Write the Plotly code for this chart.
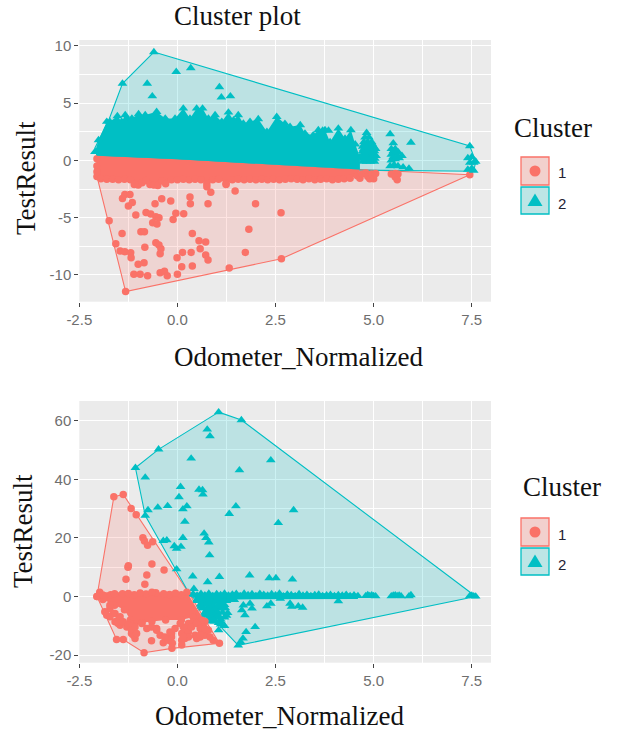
import plotly.graph_objects as go

W, H = 618, 735
RED, TEAL = "#FA7268", "#00BFC4"
SERIF = "Liberation Serif"
SANS = "Liberation Sans"

x_ticks = [-2.5, 0.0, 2.5, 5.0, 7.5]
x_labels = ["-2.5", "0.0", "2.5", "5.0", "7.5"]
top_y_ticks = [-10, -5, 0, 5, 10]
top_y_labels = ["-10", "-5", "0", "5", "10"]
bot_y_ticks = [-20, 0, 20, 40, 60]
bot_y_labels = ["-20", "0", "20", "40", "60"]

# ---------- top panel ----------
top_hull1_x = [-2.05, -1.32, 2.65, 7.45, 4.65, 0.0, -2.05, -2.05]
top_hull1_y = [-1.4, -11.45, -8.58, -1.25, -0.8, 0.1, 0.4, -1.4]
top_hull2_x = [-0.6, 7.45, 7.6, 7.55, 4.65, 0.0, -2.05, -2.1, -1.75, -1.4, -0.6]
top_hull2_y = [9.45, 1.25, -0.1, -0.95, -0.85, 0.1, 0.4, 1.1, 3.5, 6.7, 9.45]

# edge of the saturated bands
top_band2_x = [-2.1, -2.01, -1.80, -1.72, -1.53, -1.42, -1.33, -1.16, -0.99, -0.82, -0.53, -0.31, -0.06, 0.15, 0.32,
               0.49, 0.64, 0.79, 0.96, 1.13, 1.30, 1.43, 1.55, 1.68, 1.85, 2.06, 2.28, 2.53, 2.74, 2.87, 3.13, 3.25,
               3.46, 3.59, 3.76, 3.89, 4.1, 4.27, 4.42, 4.53, 4.65]
top_band2_top = [0.75, 1.77, 3.37, 3.37, 3.86, 3.37, 3.95, 3.66, 4.04, 3.95, 4.24, 3.66, 3.66, 4.53, 3.66,
                 4.53, 4.53, 3.66, 3.95, 3.37, 4.18, 3.51, 3.95, 3.22, 3.37, 3.6, 2.5, 3.8, 3.2, 2.93, 3.08, 2.35,
                 2.2, 2.64, 2.64, 1.6, 2.78, 1.9, 2.64, 1.4, 0.3]
top_band_mid_x = [4.65, 2.6, 0.0, -2.05]
top_band_mid_y = [-0.8, -0.4, 0.1, 0.4]
top_band1_x = [-2.05, -1.95, -1.8, -1.65, -1.5, -1.35, -1.2, -1.1, -1.0, -0.9, -0.8, -0.7, -0.6, -0.5, -0.4, -0.3,
               -0.15, 0.0, 0.15, 0.3, 0.45, 0.6, 0.75, 0.9, 1.05, 1.24, 1.4, 1.55, 1.7, 1.85, 2.0, 2.15, 2.3, 2.45,
               2.6, 2.75, 2.9, 3.05, 3.2, 3.35, 3.5, 3.65, 3.8, 3.95, 4.1, 4.25, 4.4, 4.58]
top_band1_low = [-1.4, -1.6, -1.65, -1.65, -1.7, -1.65, -1.7, -2.1, -2.15, -1.95, -1.75, -2.1, -2.15, -2.2, -1.8, -2.05,
                 -1.7, -1.7, -1.65, -1.7, -1.65, -1.7, -2.05, -1.7, -1.65, -2.0, -1.7, -1.65, -1.7, -1.65, -1.7, -1.65, -1.7, -1.65,
                 -1.7, -1.65, -1.6, -1.65, -1.7, -1.6, -1.7, -1.65, -1.6, -1.7, -1.65, -1.6, -1.55, -1.35]

top_c1_x = [-1.32, -1.74, -1.57, -1.46, -1.34, -1.19, -1.18, -1.41, -1.40, -1.34, -1.21, -1.25, -1.15, -1.06, -0.80,
            -0.68, -0.55, -0.47, -0.63, -0.52, -0.93, -0.84, -0.83, -0.55, -0.47, -0.42, -0.44, -0.57, -0.40, -0.17,
            0.32, 0.33, 0.85, 0.78, -0.04, -0.11, 0.16, -1.0, -0.85, -1.11, -0.95, -0.76, -0.44, -0.33, -0.26, 0.0,
            -0.01, 0.13, 0.35, 0.58, 0.55, 0.72, 0.38, 0.11, 0.38, 0.72, 0.78, 1.32, 2.65, 1.73, 1.82, 1.99, 2.64,
            1.47, 1.24, 0.75, 7.45, -2.05, -2.05, -2.05,
            4.65, 4.7, 4.8, 4.85, 4.9, 4.95, 5.0, 5.05, 5.45, 5.55, 5.62, 5.55, 5.6]
top_c1_y = [-11.45, -5.26, -7.27, -7.91, -7.97, -8.06, -8.49, -6.37, -3.32, -2.97, -2.97, -3.99, -3.67, -4.77, -4.54,
            -4.68, -4.92, -5.0, -5.44, -5.55, -6.22, -6.22, -7.59, -7.18, -7.39, -7.71, -8.14, -3.78, -3.35, -3.55,
            -3.2, -3.78, -2.79, -3.78, -4.62, -5.15, -4.65, -9.07, -8.93, -9.94, -9.94, -10.06, -9.8, -9.68, -10.06, -9.94,
            -8.49, -8.03, -8.03, -7.71, -7.01, -7.13, -6.37, -9.28, -9.22, -8.26, -8.69, -9.39, -8.58, -8.03, -6.02, -3.78, -4.57,
            -2.68, -2.1, -2.3, -1.25, 0.15, -0.5, -1.0,
            -1.55, -1.2, -1.1, -1.4, -1.6, -1.2, -1.6, -1.15, -1.2, -1.15, -1.2, -1.45, -1.7]
top_c2_x = [-0.6, -1.4, -0.03, 0.34, -0.77, -0.64, 1.07, 1.12, 1.35, 3.7, 3.85,
            4.82, 4.78, 4.88, 4.75, 4.85, 4.95, 4.72, 4.82, 4.92, 5.0, 4.72, 4.82, 4.92, 5.02, 4.7, 4.8, 4.9, 5.0, 5.06,
            4.72, 4.82, 4.92, 5.02, 4.77, 4.87, 4.97, 4.75, 4.85, 4.95, 5.05, 4.77, 4.87, 4.97, 4.73, 4.83, 4.93, 5.03,
            5.42, 5.5, 5.45, 5.55, 5.45, 5.55, 5.63, 5.45, 5.55, 5.65, 5.72, 5.42, 5.52, 5.62, 5.75, 5.5, 5.58, 5.5, 5.6, 5.95, 5.9,
            7.45, 7.5, 7.4, 7.6, 7.45, 7.55, 7.5, 7.4, 7.55]
top_c2_y = [9.45, 6.7, 7.73, 8.05, 6.7, 5.6, 6.4, 5.5, 5.6, 2.6, 2.6,
            2.4, 2.0, 2.0, 1.6, 1.6, 1.6, 1.2, 1.2, 1.2, 1.2, 0.8, 0.8, 0.8, 0.8, 0.4, 0.4, 0.4, 0.4, 0.4,
            -0.1, -0.1, -0.1, -0.1, 1.4, 1.4, 1.4, 1.0, 1.0, 1.0, 1.0, 0.6, 0.6, 0.6, 0.15, 0.15, 0.15, 0.15,
            2.3, 1.5, 1.0, 1.0, 0.5, 0.6, 0.7, 0.0, 0.1, 0.2, 0.4, -0.5, -0.4, -0.5, -0.6, 0.8, 0.8, 0.3, 0.3, 1.55, -0.7,
            1.25, 0.3, 0.2, -0.1, -0.2, -0.2, -0.7, -0.8, -0.9]

# ---------- bottom panel ----------
bot_hull1_x = [-2.05, -1.55, -1.38, -0.85, -0.14, 1.07, 0.3, -1.05, -1.38, -1.62, -2.05]
bot_hull1_y = [0.0, -14.7, -14.7, -19.2, -17.7, -16.0, 1.0, 27.9, 34.8, 34.0, 0.0]
bot_hull2_x = [1.05, 1.63, 7.5, 7.6, 1.55, 0.3, -0.82, -1.07, -0.48, 1.05]
bot_hull2_y = [62.9, 60.2, 1.0, 0.0, -16.7, 1.0, 27.6, 43.9, 50.2, 62.9]

bot_band1_x = [-2.05, -1.98, 0.24, 0.7, 0.6, 0.4, 0.1, -0.3, -0.65, -0.9, -1.1, -1.2, -1.35, -1.6, -1.9]
bot_band1_y = [0.0, 1.4, 1.4, -8.5, -9.5, -7.0, -8.0, -8.0, -8.5, -9.0, -10.0, -8.0, -4.5, -3.0, -1.0]

bot_c1_x = [-1.62, -1.38, -1.18, -1.05, -0.88, -0.84, -0.76, -0.63, -1.25, -1.26, -0.65, -0.34, -1.31, -0.78, -0.83,
            -1.55, -1.38, -0.85, -0.14, 1.07, -2.05, -1.72, -1.8, -1.63, -1.51, -1.46, -1.29, -1.59, -1.21, -1.17,
            -1.08, -1.12, -0.66, -0.36, -0.23, -0.15, -0.13, -0.15, 0.11, 0.11, 0.11, 0.15, 0.45, 0.58, 0.49, 0.7,
            0.79, 0.62, 0.28, 0.41, 0.62, 0.66, 0.19, -0.53, -1.7, -1.4, -1.1, -0.8, -0.55, -0.2, 0.1,
            -1.72, -1.85, -1.72, -1.59, -1.46, -1.51, -1.38, -1.25, -1.17, -1.04, -1.08, -0.91, -0.78, -0.66, -0.53,
            -0.44, -0.32, -0.19, -0.06, 0.07, 0.19, 0.28, 0.36, 0.49, 0.58, 0.7, 0.83, 0.91, 0.58, 0.28, 0.15,
            -1.9, -1.6, -1.25, -0.95, -0.65, -0.35, -0.05]
bot_c1_y = [34.0, 34.8, 30.0, 27.9, 20.0, 18.9, 17.5, 18.7, 10.5, 10.0, 11.1, 9.0, 5.9, 7.3, 4.2,
            -14.7, -14.7, -19.2, -17.7, -16.0, 0.0, -4.1, -6.4, -5.8, -8.1, -9.8, -10.4, -8.6, -9.2, -12.6,
            -14.3, -13.2, -15.1, -15.8, -14.9, -13.8, -16.0, -12.6, -14.9, -16.6, -12.6, -10.4, -13.2, -13.8, -14.3, -13.2,
            -11.5, -11.5, -9.2, -8.6, -8.1, -10.4, -14.3, -10.9, 0.6, 0.9, 0.6, 0.8, 1.3, 0.7, 0.6,
            -3.0, -5.2, -6.9, -5.8, -6.9, -9.2, -8.6, -9.8, -11.5, -12.6, -10.4, -9.2, -10.9, -10.4, -11.5,
            -13.2, -13.8, -12.1, -10.9, -9.2, -10.9, -12.1, -10.4, -9.2, -10.9, -10.9, -13.8, -14.9, -13.2, -13.8, -13.8,
            0.5, 0.9, 1.0, 1.2, 1.4, 0.9, 1.1]

bot_c2_x = [1.05, 1.63, -1.07, -0.48, -0.82, -0.5, -0.25, -0.75, -0.82, 0.76, 0.83, 0.35, 2.38, 1.58, 0.08, 0.04,
            0.55, 0.64, 0.65, 0.14, 0.24, 0.19, 1.49, 1.32, 2.96, 2.57, 0.68, 0.73, 0.8, 0.82, -0.36, -0.27, -0.08,
            -0.02, 0.09, 0.14, -0.02, 0.39, 0.77, 1.07, 1.84, 2.34, 2.51, 2.93, 4.1, 2.87, 2.91, 3.08, 3.19, 2.28,
            2.38, 2.62, 1.68, 1.85, 1.9, 1.72, 1.64, 1.98, 1.75, 1.67, 1.61, 1.55, 0.55, 0.7, 0.9, 1.1, 1.15, 1.25,
            0.75, 0.95, 0.7, 0.9, 1.05, 0.85, 1.1, 1.2, 1.05, 0.6, 0.5, 0.85, 1.0, 1.2, 1.35, 1.45, 0.42, 0.62,
            0.5, 0.6, 0.72, 0.82, 0.92, 1.02, 0.65, 0.78, 0.88, 1.0, 0.72, 0.85, 0.95, 0.8, 0.95, 1.1, 1.05]
bot_c2_y = [62.9, 60.2, 43.9, 50.2, 40.6, 30.4, 30.9, 29.5, 27.6, 57.0, 54.7, 47.1, 46.5, 43.1, 37.4, 33.9,
            36.5, 36.3, 34.8, 29.8, 30.8, 25.5, 30.8, 28.2, 29.5, 25.1, 21.5, 20.0, 18.5, 14.1, 19.0, 19.2, 17.2,
            16.3, 17.0, 20.0, 9.3, 6.9, 4.9, 6.7, 7.2, 6.3, 6.3, 5.8, -1.6, -2.4, -3.5, -3.3, -3.8, -3.3,
            -2.4, -0.7, -3.0, -2.4, -4.1, -6.4, -4.7, -10.4, -12.1, -14.3, -15.5, -16.7, -1.5, -2.0, -2.0, -2.5, -4.0, -6.5,
            -4.5, -4.3, -6.5, -7.0, -6.6, -8.5, -9.5, -10.0, -11.5, -3.5, -1.0, -1.2, -1.5, -1.5, -1.0, -1.2, 2.6, -0.8,
            -1.5, -2.5, -2.8, -3.2, -3.4, -3.3, -4.0, -4.6, -5.2, -5.0, -6.0, -6.2, -6.4, -7.5, -8.0, -7.8, -9.0]
# the packed cluster 2 marks just right of the dividing edge
bot_mass_x = [0.5, 0.65, 0.8, 0.95, 1.1, 1.25, 0.6, 0.75, 0.9, 1.05, 1.2, 0.65, 0.8, 0.95, 1.1, 1.22,
              0.7, 0.85, 1.0, 1.15, 1.28, 0.85, 1.0, 1.2, 0.95, 1.1]
bot_mass_y = [-1.5, -1.5, -1.6, -1.5, -1.6, -1.5, -2.8, -2.8, -2.9, -2.8, -2.9, -4.0, -4.1, -4.0, -4.1, -4.0,
              -5.5, -5.5, -5.6, -5.5, -5.6, -7.0, -7.0, -7.1, -8.5, -8.5]
# the long saturated row of cluster 2 along y = 0
bot_row_x = [0.3, 0.4, 0.5, 0.6, 0.7, 0.8, 0.9, 1.0, 1.1, 1.2, 1.3, 1.4, 1.5, 1.6, 1.7, 1.8, 1.9, 2.0, 2.1, 2.2, 2.3,
             2.4, 2.5, 2.6, 2.7, 2.8, 2.9, 3.0, 3.1, 3.2, 3.3, 3.4, 3.5, 3.6, 3.7, 3.8, 3.9, 4.0, 4.1, 4.2, 4.3, 4.4,
             4.5, 4.6, 4.8, 4.85, 4.9, 4.95, 5.0, 5.05, 5.45, 5.5, 5.55, 5.6, 5.65, 5.7, 5.9, 5.95, 7.45, 7.5, 7.55, 7.6]
bot_row_y = [0.6, 0.8, 0.3, 0.9, 0.4, 1.0, 0.2, 0.8, 0.5, 1.0, 0.3, 0.7, 0.9, 0.2, 1.0, 0.5, 0.8, 0.2, 0.9, 0.6, 0.3,
             0.8, 0.4, 1.0, 0.1, 0.7, 0.5, 0.2, 0.8, 0.3, 0.6, 0.2, 0.5, 0.7, 0.2, 0.4, 0.6, 0.2, 0.5, 0.3, 0.6, 0.2,
             0.4, 0.2, 0.2, 0.5, 0.2, 0.4, 0.2, 0.1, 0.1, 0.3, 0.4, 0.2, 0.3, 0.1, 0.1, 0.5, 0.2, 0.3, 0.1, 0.0]
bot_row_band_x = [0.3, 1.5, 4.6, 4.6, 1.5, 0.55]
bot_row_band_y = [1.3, 1.3, 1.0, -0.9, -1.0, -1.6]

# ---------- page layout helpers (pixels -> paper) ----------
def fx(p): return p / W
def fy(p): return 1 - p / H

traces = []
def hull(x, y, c, xa, ya):
    traces.append(go.Scatter(x=x, y=y, mode="lines", fill="toself", fillcolor=c[1], line=dict(color=c[0], width=1.1),
                             xaxis=xa, yaxis=ya, hoverinfo="skip", showlegend=False))
def solid(x, y, color, xa, ya):
    traces.append(go.Scatter(x=x, y=y, mode="lines", fill="toself", fillcolor=color, line=dict(color=color, width=0),
                             xaxis=xa, yaxis=ya, hoverinfo="skip", showlegend=False))
def pts(x, y, color, sym, size, xa, ya):
    traces.append(go.Scatter(x=x, y=y, mode="markers", marker=dict(color=color, symbol=sym, size=size, line=dict(width=0)),
                             xaxis=xa, yaxis=ya, showlegend=False))

RF, TF = "rgba(248,118,109,0.2)", "rgba(0,191,196,0.2)"
CIRC, TRI = 7.5, 8.5
# top
hull(top_hull1_x, top_hull1_y, (RED, RF), "x", "y")
hull(top_hull2_x, top_hull2_y, (TEAL, TF), "x", "y")
solid(top_band1_x + top_band_mid_x, top_band1_low + top_band_mid_y, RED, "x", "y")
pts(top_band1_x, top_band1_low, RED, "circle", CIRC, "x", "y")
pts(top_c1_x, top_c1_y, RED, "circle", CIRC, "x", "y")
solid(top_band2_x + top_band_mid_x, top_band2_top + top_band_mid_y, TEAL, "x", "y")
pts(top_band2_x, top_band2_top, TEAL, "triangle-up", TRI, "x", "y")
pts(top_c2_x, top_c2_y, TEAL, "triangle-up", TRI, "x", "y")
# bottom
hull(bot_hull1_x, bot_hull1_y, (RED, RF), "x2", "y2")
hull(bot_hull2_x, bot_hull2_y, (TEAL, TF), "x2", "y2")
solid(bot_row_band_x, bot_row_band_y, TEAL, "x2", "y2")
pts(bot_row_x, bot_row_y, TEAL, "triangle-up", TRI, "x2", "y2")
pts(bot_mass_x, bot_mass_y, TEAL, "triangle-up", TRI, "x2", "y2")
pts(bot_c2_x, bot_c2_y, TEAL, "triangle-up", TRI, "x2", "y2")
solid(bot_band1_x, bot_band1_y, RED, "x2", "y2")
pts(bot_band1_x, bot_band1_y, RED, "circle", CIRC, "x2", "y2")
pts(bot_c1_x, bot_c1_y, RED, "circle", CIRC, "x2", "y2")

def xaxis(anchor):
    return dict(domain=[fx(79.3), fx(491)], range=[-2.5, 7.99], anchor=anchor, automargin=False, tickmode="array", tickvals=x_ticks,
                ticktext=x_labels, ticks="outside", ticklen=4, tickwidth=1.1, tickcolor="#444", showline=False,
                gridcolor="white", gridwidth=1.3, zeroline=False,
                tickfont=dict(family=SANS, size=15, color="#6E6E6E"),
                minor=dict(tickvals=[-1.25, 1.25, 3.75, 6.25], showgrid=True, gridcolor="white", gridwidth=0.7, ticks=""))
def yaxis(anchor, dom, rng, tv, tt, mv):
    return dict(domain=dom, range=rng, anchor=anchor, automargin=False, tickmode="array", tickvals=tv, ticktext=tt, ticks="outside",
                ticklen=4, tickwidth=1.1, tickcolor="#444", showline=False, gridcolor="white", gridwidth=1.3,
                zeroline=False, tickfont=dict(family=SANS, size=15, color="#6E6E6E"),
                minor=dict(tickvals=mv, showgrid=True, gridcolor="white", gridwidth=0.7, ticks=""))

def text(s, px, py, size, rot=0, font=SERIF, color="#111"):
    return dict(text=s, x=fx(px), y=fy(py), xref="paper", yref="paper", showarrow=False, textangle=rot,
                xanchor="center", yanchor="middle", font=dict(family=font, size=size, color=color))

annotations = [
    text("Cluster plot", 237, 16, 27),
    text("Odometer_Normalized", 298, 357, 27),
    text("TestResult", 26, 178, 27, -90),
    text("Odometer_Normalized", 279, 716, 27),
    text("TestResult", 23, 531, 27, -90),
    text("Cluster", 553, 128, 27),
    text("1", 562, 173, 15, font=SANS, color="#223"),
    text("2", 562, 203, 15, font=SANS, color="#223"),
    text("Cluster", 562, 487, 27),
    text("1", 562, 534, 15, font=SANS, color="#223"),
    text("2", 562, 564, 15, font=SANS, color="#223"),
]

shapes = []
def key(x0, y0, x1, y1, edge, fill, sym):
    shapes.append(dict(type="rect", xref="paper", yref="paper", x0=fx(x0), x1=fx(x1), y0=fy(y0), y1=fy(y1),
                       line=dict(color=edge, width=1.3), fillcolor=fill))
    cx, cy = (x0 + x1) / 2, (y0 + y1) / 2
    if sym == "c":
        shapes.append(dict(type="circle", xref="paper", yref="paper", x0=fx(cx - 5.5), x1=fx(cx + 5.5), y0=fy(cy - 5.5),
                           y1=fy(cy + 5.5), line=dict(width=0), fillcolor=edge))
    else:
        p = f"M {fx(cx-7.5)} {fy(cy+5.5)} L {fx(cx+7.5)} {fy(cy+5.5)} L {fx(cx)} {fy(cy-7)} Z"
        shapes.append(dict(type="path", xref="paper", yref="paper", path=p, line=dict(width=0), fillcolor=edge))
KEY_R, KEY_T = "#F2D0CD", "#BDE5E5"
for (a, b), sym, e, f in [((157, 185), "c", RED, KEY_R), ((187, 214), "t", TEAL, KEY_T),
                          ((518, 546), "c", RED, KEY_R), ((548, 575), "t", TEAL, KEY_T)]:
    key(521, a, 549, b, e, f, sym)

fig = go.Figure(traces)
fig.update_layout(
    width=W, height=H, margin=dict(l=0, r=0, t=0, b=0), paper_bgcolor="white", plot_bgcolor="#EBEBEB",
    showlegend=False, annotations=annotations, shapes=shapes,
    xaxis=xaxis("y"), xaxis2=xaxis("y2"),
    yaxis=yaxis("x", [fy(301.7), fy(40)], [-12.33, 10.5], top_y_ticks, top_y_labels, [-7.5, -2.5, 2.5, 7.5]),
    yaxis2=yaxis("x2", [fy(662.7), fy(401)], [-22.6, 66.7], bot_y_ticks, bot_y_labels, [-10, 10, 30, 50]),
)
fig.write_html("out.html", config=dict(displayModeBar=False), post_script="document.body.style.margin='0';")
